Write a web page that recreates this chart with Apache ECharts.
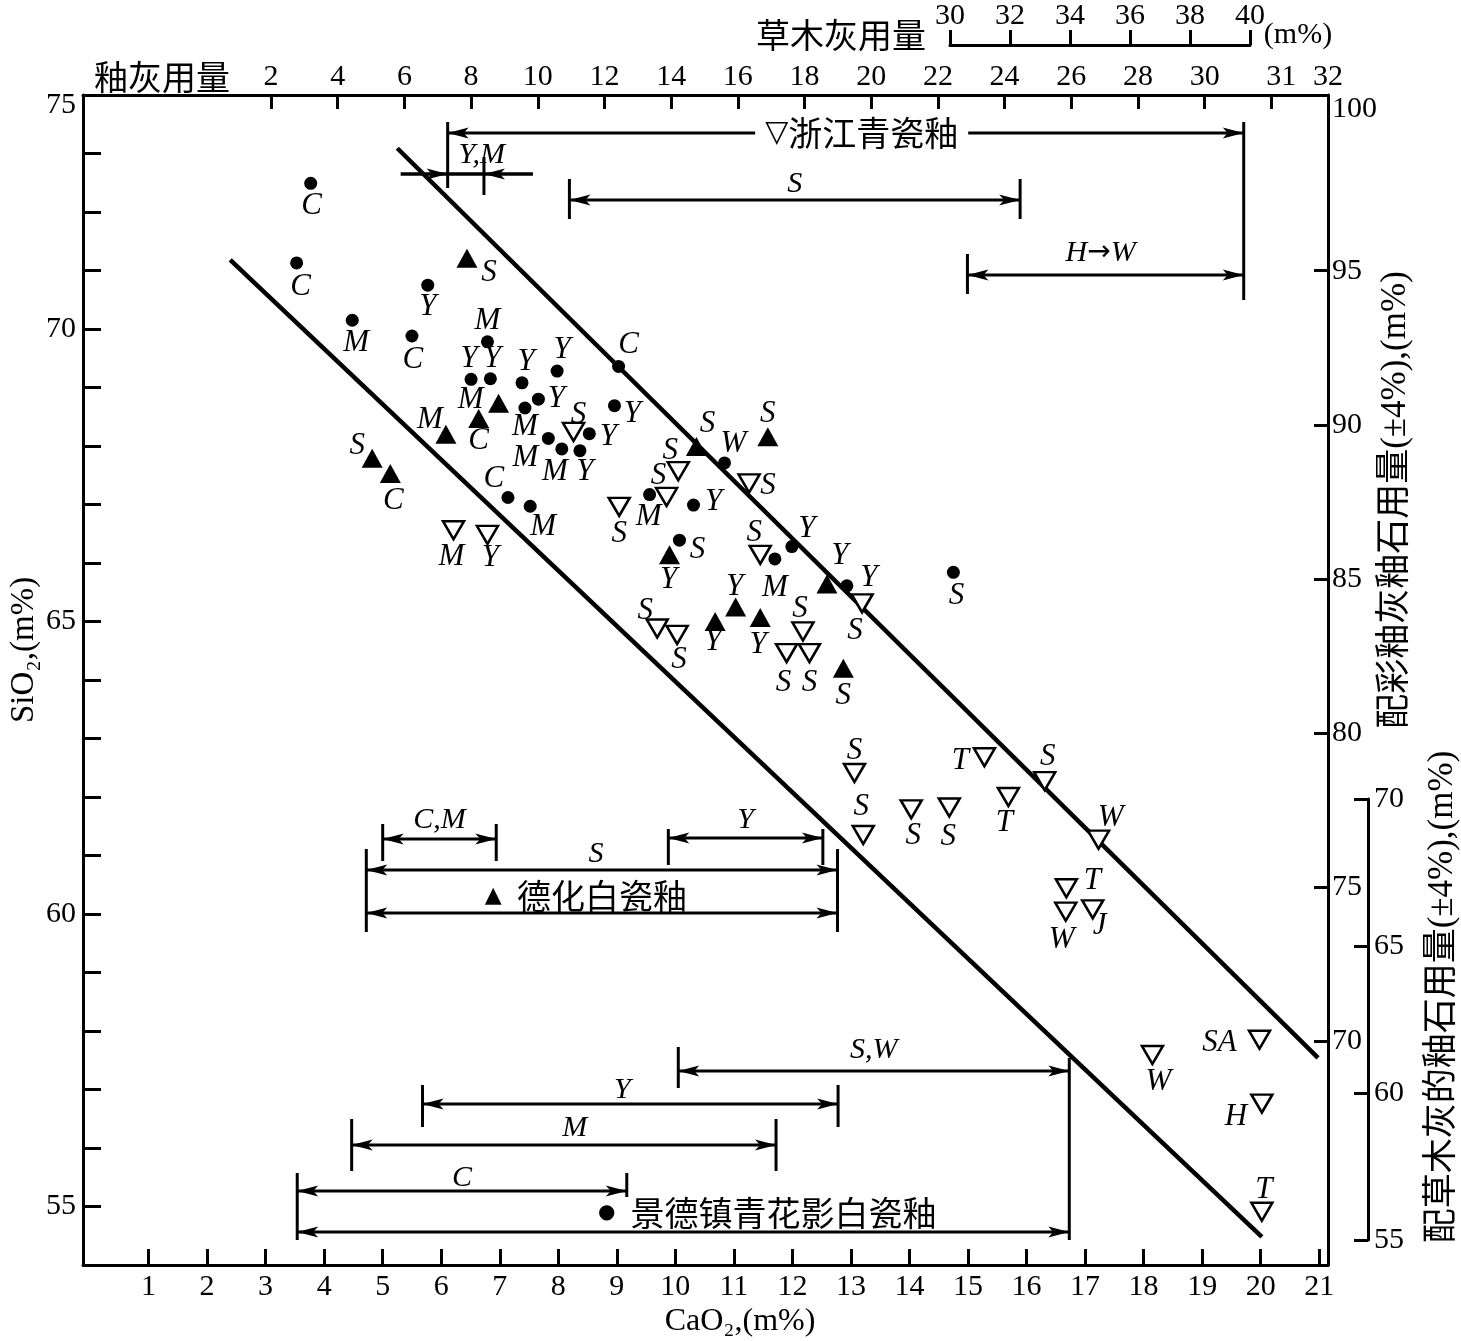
<!DOCTYPE html>
<html><head><meta charset="utf-8">
<script src="https://cdn.jsdelivr.net/npm/echarts@6/dist/echarts.min.js"></script>
<style>html,body{margin:0;padding:0;background:#fff}#c{width:1461px;height:1341px}</style>
</head><body><div id="c"></div>
<script>
// ================= DATA =================
// 景德镇青花影白瓷釉 (filled circles)
const jdzCaO  = [3.77,3.53,4.48,5.77,5.50,6.79,6.51,6.84,7.38,7.98,9.03,7.66,7.43,8.96,8.53,7.83,8.06,8.37,7.14,7.52,9.56,10.84,10.31,10.07,11.99,11.70,12.93,14.75];
const jdzSiO2 = [72.49,71.13,70.15,70.75,69.88,69.78,69.14,69.15,69.08,69.28,69.36,68.80,68.65,68.69,68.21,68.13,67.95,67.92,67.12,66.97,67.17,67.71,66.99,66.39,66.28,66.07,65.61,65.84];
const jdzLabels = ['C','C','M','Y','C','M','Y','Y','Y','Y','C','Y','M','Y','Y','M','M','Y','C','M','M','W','Y','S','Y','M','Y','S'];
// 德化白瓷釉 (filled triangles)
const dhCaO  = [6.44,6.98,6.64,6.08,4.82,5.13,10.36,11.58,9.90,10.68,11.03,11.45,12.59,12.87];
const dhSiO2 = [71.21,68.73,68.47,68.20,67.79,67.53,67.99,68.16,66.14,65.00,65.25,65.07,65.64,64.20];
const dhLabels = ['S','M','C','M','S','C','S','S','Y','Y','Y','Y','Y','S'];
// 浙江青瓷釉 (open inverted triangles)
const zjCaO  = [8.26,10.05,9.85,11.26,9.04,6.21,6.79,11.45,9.69,10.03,12.18,11.90,12.29,13.19,13.06,13.21,14.03,14.68,15.28,15.69,16.31,17.23,16.68,16.67,17.13,18.15,19.98,20.02,20.02];
const zjSiO2 = [68.24,67.57,67.13,67.36,66.96,66.56,66.48,66.14,64.88,64.77,64.83,64.46,64.46,65.31,62.41,61.35,61.79,61.82,62.68,62.00,62.27,61.27,60.44,60.04,60.08,57.59,57.85,56.76,54.91];
const zjLabels = ['S','S','S','S','S','M','Y','S','S','S','S','S','S','S','S','S','S','S','T','T','S','W','T','W','J','W','SA','H','T'];
// boundary lines
const upperLineCaO = [5.25, 20.98];
const upperLineSiO2 = [73.09, 57.54];
const lowerLineCaO = [2.395, 20.02];
const lowerLineSiO2 = [71.18, 54.48];
// composition ranges (CaO)
const zjRangeNames = ['浙江青瓷釉','Y,M','S','H→W'];
const zjRangeFrom  = [6.11, 6.11, 8.19, 14.99];
const zjRangeTo    = [19.71, 6.73, 15.89, 19.71];
const dhRangeNames = ['德化白瓷釉','S','C,M','Y'];
const dhRangeFrom  = [4.72, 4.72, 5.00, 9.88];
const dhRangeTo    = [12.77, 12.77, 6.94, 12.52];
const jdzRangeNames = ['景德镇青花影白瓷釉','C','M','Y','S,W'];
const jdzRangeFrom  = [3.54, 3.54, 4.47, 5.68, 10.05];
const jdzRangeTo    = [16.73, 9.17, 11.72, 12.78, 16.73];
// tick labels
const caoTicks = [1,2,3,4,5,6,7,8,9,10,11,12,13,14,15,16,17,18,19,20,21];
const sio2TickLabels = ['55','60','65','70','75'];
const glazeAshTickLabels = ['2','4','6','8','10','12','14','16','18','20','22','24','26','28','30','31','32'];
const plantAshTicks = [30,32,34,36,38,40];
const rightTickLabels = ['70','75','80','85','90','95','100'];
const right2Ticks = [55,60,65,70];

// ================= STYLE / LAYOUT =================
const SERIF = "'Liberation Serif','DejaVu Serif',serif";
const CJK = "'Noto Sans CJK SC','Noto Sans CJK JP',sans-serif";
const jdzLabelOffset = [[1,23],[4,24],[4,23],[0,22],[1,24],[0,-21],[-2,-20],[2,-20],[4,-21],[5,-21],[10,-22],[18,0],[0,19],[18,8],[19,3],[-23,19],[-7,23],[5,21],[-14,-19],[13,21],[-1,22],[9,-19],[20,-3],[18,10],[15,-18],[0,29],[22,-8],[3,23]];
const dhLabelOffset = [[22,15],[-28,-3],[0,22],[-16,-14],[-15,-12],[3,27],[11,-23],[0,-23],[-1,25],[-2,20],[-1,-20],[-2,27],[13,-28],[0,28]];
const zjLabelOffset = [[5,-17],[-8,-20],[-8,-21],[19,2],[0,27],[-2,27],[3,23],[-6,-22],[-12,-18],[2,25],[-3,-23],[-3,30],[0,30],[-7,27],[0,-22],[-2,-28],[2,27],[-1,29],[-24,4],[-4,26],[3,-24],[12,-22],[26,-7],[-4,28],[7,17],[6,27],[-40,3],[-26,13],[2,-22]];

// bracket drawing layout (pixel rows)
const zjRangeLayout = [
  {y:133, b1:[122,188], b2:[122,300], dx:16, dy:0, legend:'▽'},
  {y:174, b2:[157,195], mode:'in', dx:16, dy:-19},
  {y:200, b1:[179,219], b2:[179,219], dy:-16},
  {y:275, b1:[254,294], dx:-5, dy:-22}
];
const dhRangeLayout = [
  {y:913, b1:[849,932], b2:[849,932], dx:-16, dy:-17, legend:'▲'},
  {y:870, dx:-6, dy:-16},
  {y:839, b1:[824,861], b2:[824,861], dy:-19},
  {y:838, b1:[829,865], b2:[829,865], dy:-18}
];
const jdzRangeLayout = [
  {y:1232, b1:[1173,1240], b2:[1058,1240], dx:84, dy:-19, legend:'●'},
  {y:1191, b2:[1173,1197], dy:-13},
  {y:1145, b1:[1119,1171], b2:[1119,1171], dx:11, dy:-17},
  {y:1104, b1:[1085,1127], b2:[1085,1127], dx:-8, dy:-14},
  {y:1071, b1:[1047,1088], dy:-21}
];

const BR_NAMES = [].concat(zjRangeNames, dhRangeNames, jdzRangeNames);
const BR_FROM = [].concat(zjRangeFrom, dhRangeFrom, jdzRangeFrom);
const BR_TO = [].concat(zjRangeTo, dhRangeTo, jdzRangeTo);
const BR_LAYOUT = [].concat(zjRangeLayout, dhRangeLayout, jdzRangeLayout);
const bracketData = BR_FROM.map((f, i) => [f, BR_TO[i], 60]);

function seg(x1, y1, x2, y2, w) {
  return {type:'line', shape:{x1, y1, x2, y2}, style:{stroke:'#000', lineWidth:w || 3}};
}
function arrowHead(tx, ty, dir) {
  return {type:'polygon', shape:{points:[[tx,ty],[tx-dir*21,ty-5.5],[tx-dir*16,ty],[tx-dir*21,ty+5.5]]}, style:{fill:'#000'}};
}
function renderBracket(params, api) {
  const i = params.dataIndex;
  const L = BR_LAYOUT[i];
  const x1 = api.coord([api.value(0), 60])[0];
  const x2 = api.coord([api.value(1), 60])[0];
  const y = L.y;
  const ch = [];
  if (L.mode === 'in') {
    ch.push(seg(x1 - 47, y, x2 + 49, y, 3.5));
    ch.push(arrowHead(x1, y, 1));
    ch.push(arrowHead(x2, y, -1));
  } else {
    ch.push(seg(x1, y, x2, y, 3));
    ch.push(arrowHead(x1, y, -1));
    ch.push(arrowHead(x2, y, 1));
  }
  if (L.b1) ch.push(seg(x1, L.b1[0], x1, L.b1[1], 3));
  if (L.b2) ch.push(seg(x2, L.b2[0], x2, L.b2[1], 3));
  const cx = (x1 + x2) / 2 + (L.dx || 0);
  const cy = y + (L.dy || 0);
  if (L.legend) {
    const symSize = L.legend === '●' ? 20 : (L.legend === '▲' ? 22 : 30);
    ch.push({type:'text', z2:10, style:{
      text:'{s|' + L.legend + '}' + (L.legend === '▽' ? '' : '  ') + BR_NAMES[i],
      x:cx, y:cy, align:'center', verticalAlign:'middle',
      fill:'#000', fontSize:34, fontFamily:CJK,
      backgroundColor: L.dy === 0 ? '#fff' : null, padding: L.dy === 0 ? [0,10] : 0,
      rich:{s:{fontSize:symSize, fontFamily:"'DejaVu Sans',sans-serif", fill:'#000'}}
    }});
  } else {
    const txt = BR_NAMES[i].replace('→', '{a|→}');
    ch.push({type:'text', z2:10, style:{
      text:txt, x:cx, y:cy, align:'center', verticalAlign:'middle', fill:'#000',
      fontSize:30, fontFamily:SERIF, fontStyle:'italic',
      rich:{a:{fontSize:28, fontFamily:"'DejaVu Sans',sans-serif", fontStyle:'normal', fill:'#000'}}
    }});
  }
  return {type:'group', children:ch};
}

function pts(xs, ys, labels, offs) {
  return xs.map((x, i) => ({value:[x, ys[i]], name:labels[i], label:{offset:offs[i]}}));
}
const ptLabel = {show:true, position:'inside', formatter:'{b}', color:'#000', opacity:1, fontSize:31, fontStyle:'italic', fontFamily:SERIF};

const axisLineStyle = {color:'#000', width:3};
const tickStyle = {color:'#000', width:3};
const labelStyle = {color:'#000', fontSize:30, fontFamily:SERIF};

const glazePos = glazeAshTickLabels.map((t, i) => i < 15 ? 2 + 2 * i : (i === 15 ? 32 : 33.7));
const glazeLabelPos = glazePos.map((p, i) => i === 15 ? 32.3 : p);

const option = {
  animation:false,
  backgroundColor:'#fff',
  grid:[
    {left:83, top:95, width:1245, height:1170},
    {left:1367, top:799, width:1, height:441},
    {left:950, top:45, width:300, height:10}
  ],
  xAxis:[
    {gridIndex:0, type:'value', position:'bottom', min:-0.12, max:21.15,
      axisLine:{show:true, onZero:false, lineStyle:axisLineStyle},
      axisTick:{show:true, inside:true, length:16, customValues:caoTicks, lineStyle:tickStyle},
      axisLabel:Object.assign({show:true, margin:7, customValues:caoTicks}, labelStyle),
      splitLine:{show:false}},
    {gridIndex:0, type:'value', position:'top', min:-3.64, max:33.7,
      axisLine:{show:true, onZero:false, lineStyle:axisLineStyle},
      axisTick:{show:true, inside:true, length:14, customValues:glazePos.slice(0, 16), lineStyle:tickStyle},
      axisLabel:Object.assign({show:true, margin:3, customValues:glazeLabelPos,
        formatter:(v) => { const k = glazeLabelPos.findIndex(p => Math.abs(p - v) < 0.05); return k >= 0 ? glazeAshTickLabels[k] : ''; }}, labelStyle),
      splitLine:{show:false}},
    {gridIndex:1, type:'value', show:false, min:0, max:1},
    {gridIndex:2, type:'value', position:'top', min:30, max:40, interval:2,
      axisLine:{show:true, onZero:false, lineStyle:axisLineStyle},
      axisTick:{show:true, inside:false, length:15, lineStyle:tickStyle},
      axisLabel:Object.assign({show:true, margin:14, formatter:(v) => String(plantAshTicks[Math.round((v - 30) / 2)])}, labelStyle),
      splitLine:{show:false}}
  ],
  yAxis:[
    {gridIndex:0, type:'value', position:'left', min:54, max:74,
      axisLine:{show:true, onZero:false, lineStyle:axisLineStyle},
      axisTick:{show:true, inside:true, length:18, customValues:[55,56,57,58,59,60,61,62,63,64,65,66,67,68,69,70,71,72,73], lineStyle:tickStyle},
      axisLabel:Object.assign({show:true, margin:7, customValues:[55,60,65,70,73.83],
        formatter:(v) => sio2TickLabels[Math.min(4, Math.round((v - 55) / 5))]}, labelStyle),
      splitLine:{show:false}},
    {gridIndex:0, type:'value', position:'right', min:62.75, max:100.7,
      axisLine:{show:true, onZero:false, lineStyle:axisLineStyle},
      axisTick:{show:true, inside:true, length:14, customValues:[70,75,80,85,90,95], lineStyle:tickStyle},
      axisLabel:Object.assign({show:true, margin:4, customValues:[70,75,80,85,90,95,100.25],
        formatter:(v) => rightTickLabels[Math.round((v - 70) / 5)]}, labelStyle),
      splitLine:{show:false}},
    {gridIndex:1, type:'value', position:'right', min:55, max:70, interval:5,
      axisLine:{show:true, onZero:false, lineStyle:axisLineStyle},
      axisTick:{show:true, inside:true, length:14, lineStyle:tickStyle},
      axisLabel:Object.assign({show:true, margin:6, formatter:(v) => String(right2Ticks[Math.round((v - 55) / 5)])}, labelStyle),
      splitLine:{show:false}},
    {gridIndex:2, type:'value', show:false, min:0, max:1}
  ],
  series:[
    {type:'line', xAxisIndex:0, yAxisIndex:0, data:upperLineCaO.map((x, i) => [x, upperLineSiO2[i]]),
      symbol:'none', lineStyle:{color:'#000', width:4.5}, silent:true, clip:false, z:2},
    {type:'line', xAxisIndex:0, yAxisIndex:0, data:lowerLineCaO.map((x, i) => [x, lowerLineSiO2[i]]),
      symbol:'none', lineStyle:{color:'#000', width:4.5}, silent:true, clip:false, z:2},
    {type:'custom', xAxisIndex:0, yAxisIndex:0, data:bracketData, renderItem:renderBracket,
      encode:{x:[0,1], y:2}, clip:false, silent:true, z:3},
    {type:'scatter', name:'景德镇青花影白瓷釉', xAxisIndex:0, yAxisIndex:0, symbol:'circle', symbolSize:13,
      itemStyle:{color:'#000', opacity:1}, label:ptLabel, data:pts(jdzCaO, jdzSiO2, jdzLabels, jdzLabelOffset), z:4, silent:true},
    {type:'scatter', name:'德化白瓷釉', xAxisIndex:0, yAxisIndex:0, symbol:'triangle', symbolSize:[21,19],
      itemStyle:{color:'#000', opacity:1}, label:ptLabel, data:pts(dhCaO, dhSiO2, dhLabels, dhLabelOffset), z:4, silent:true},
    {type:'scatter', name:'浙江青瓷釉', xAxisIndex:0, yAxisIndex:0, symbol:'triangle', symbolRotate:180, symbolSize:[21,18],
      itemStyle:{color:'#fff', borderColor:'#000', borderWidth:2.5, opacity:1}, label:ptLabel, data:pts(zjCaO, zjSiO2, zjLabels, zjLabelOffset), z:4, silent:true},
    {type:'line', xAxisIndex:2, yAxisIndex:2, data:[]},
    {type:'line', xAxisIndex:3, yAxisIndex:3, data:[]}
  ],
  graphic:[
    {type:'text', x:162, y:77, style:{text:'釉灰用量', font:"34px 'Noto Sans CJK SC'", fill:'#000', align:'center', verticalAlign:'middle', textAlign:'center', textVerticalAlign:'middle'}},
    {type:'text', x:841, y:35, style:{text:'草木灰用量', font:"34px 'Noto Sans CJK SC'", fill:'#000', align:'center', verticalAlign:'middle', textAlign:'center', textVerticalAlign:'middle'}},
    {type:'text', x:1298, y:35, style:{text:'(m%)', font:"30px 'Liberation Serif'", fill:'#000', align:'center', verticalAlign:'middle', textAlign:'center', textVerticalAlign:'middle'}},
    {type:'text', x:740, y:1322, style:{text:'CaO₂,(m%)', font:"32px 'Liberation Serif','DejaVu Serif'", fill:'#000', align:'center', verticalAlign:'middle', textAlign:'center', textVerticalAlign:'middle'}},
    {type:'text', x:24, y:650, rotation:Math.PI/2, style:{text:'SiO₂,(m%)', font:"33px 'Liberation Serif','DejaVu Serif'", fill:'#000', align:'center', verticalAlign:'middle', textAlign:'center', textVerticalAlign:'middle'}},
    {type:'text', x:1396, y:500, rotation:Math.PI/2, style:{text:'配彩釉灰釉石用量(±4%),(m%)', font:"35px 'Liberation Serif','Noto Sans CJK SC'", fill:'#000', align:'center', verticalAlign:'middle', textAlign:'center', textVerticalAlign:'middle'}},
    {type:'text', x:1443, y:997, rotation:Math.PI/2, style:{text:'配草木灰的釉石用量(±4%),(m%)', font:"35px 'Liberation Serif','Noto Sans CJK SC'", fill:'#000', align:'center', verticalAlign:'middle', textAlign:'center', textVerticalAlign:'middle'}}
  ]
};
const chart = echarts.init(document.getElementById('c'), null, {renderer:'canvas'});
chart.setOption(option);
</script>
</body></html>
